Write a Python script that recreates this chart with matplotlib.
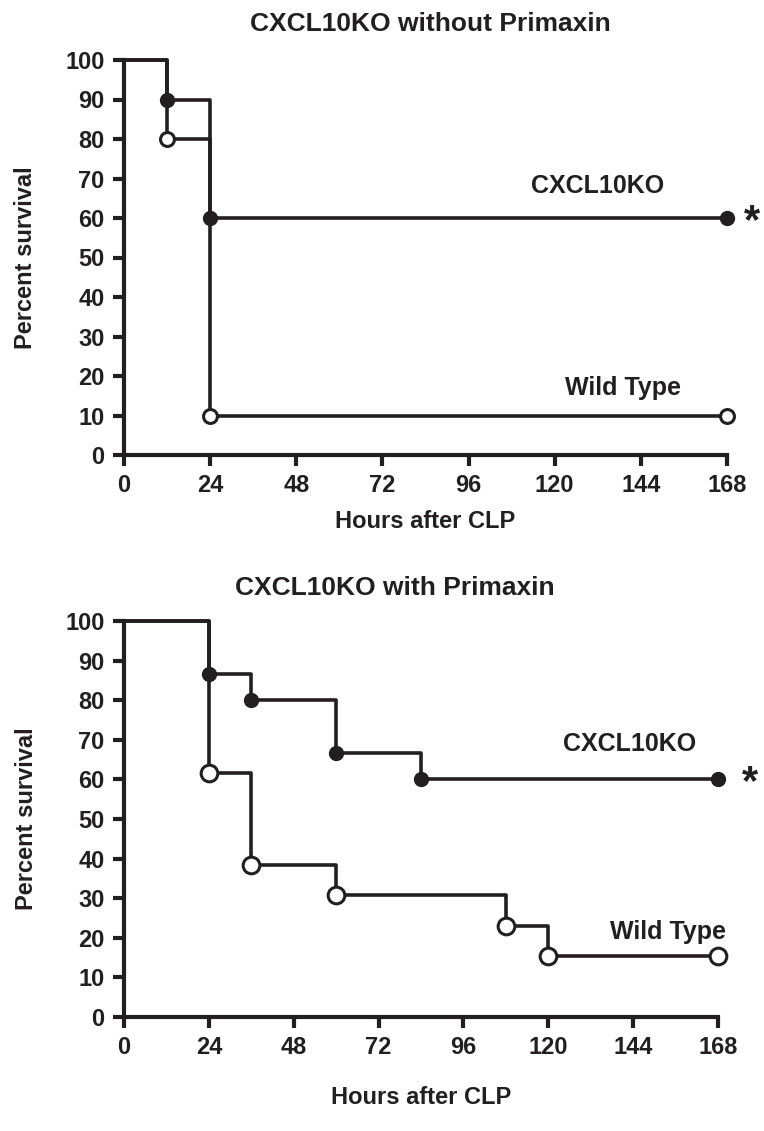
import matplotlib
matplotlib.use('Agg')
import matplotlib.pyplot as plt

plt.rcParams['font.family'] = ['Liberation Sans', 'DejaVu Sans']
plt.rcParams['font.weight'] = 'bold'
plt.rcParams['axes.labelweight'] = 'bold'

# 坐标轴刻度
hour_ticks = [0, 24, 48, 72, 96, 120, 144, 168]
pct_ticks = [0, 10, 20, 30, 40, 50, 60, 70, 80, 90, 100]

# 无 Primaxin
t1_ko = [0, 12, 24, 168]
s1_ko = [100, 90, 60, 60]
t1_wt = [0, 12, 24, 168]
s1_wt = [100, 80, 10, 10]

# 有 Primaxin
t2_ko = [0, 24, 36, 60, 84, 168]
s2_ko = [100, 86.7, 80, 66.7, 60, 60]
t2_wt = [0, 24, 36, 60, 108, 120, 168]
s2_wt = [100, 61.5, 38.5, 30.8, 23.1, 15.4, 15.4]

W, H = 764, 1131
INK = '#231f20'
fig = plt.figure(figsize=(W / 100, H / 100), dpi=100)
ax1 = fig.add_axes([124 / W, 1 - 455 / H, (727 - 124) / W, (455 - 60) / H])
ax2 = fig.add_axes([124 / W, 1 - 1017 / H, (718 - 124) / W, (1017 - 621) / H])


def draw(ax, t_ko, s_ko, t_wt, s_wt, wt_ms, lab_ko, lab_wt, star, xlab_y):
    ax.step(t_ko, s_ko, where='post', color=INK, lw=2.6, clip_on=False)
    ax.step(t_wt, s_wt, where='post', color=INK, lw=2.6, clip_on=False)
    ax.plot(t_ko[1:], s_ko[1:], 'o', color=INK, ms=10, clip_on=False, zorder=3)
    ax.plot(t_wt[1:], s_wt[1:], 'o', mfc='white', mec=INK, mew=2.2,
            ms=wt_ms, clip_on=False, zorder=3)
    ax.set_xlim(0, 168)
    ax.set_ylim(0, 100)
    ax.set_xticks(hour_ticks)
    ax.set_yticks(pct_ticks)
    for s in ['top', 'right']:
        ax.spines[s].set_visible(False)
    for s in ['left', 'bottom']:
        ax.spines[s].set_linewidth(3)
        ax.spines[s].set_color(INK)
    ax.tick_params(direction='out', length=8, width=3, pad=6, labelsize=17,
                   color=INK, labelcolor=INK)
    ax.set_xlabel('Hours after CLP', fontsize=17, color=INK)
    ax.xaxis.set_label_coords(0.5, xlab_y)
    ax.set_ylabel('Percent survival', fontsize=17, color=INK)
    ax.yaxis.set_label_coords(-0.145, 0.5)
    ax.text(lab_ko[0], lab_ko[1], 'CXCL10KO', fontsize=18, ha='center', va='center',
            color=INK)
    ax.text(lab_wt[0], lab_wt[1], 'Wild Type', fontsize=18, ha='center', va='center',
            color=INK)
    ax.text(star[0], star[1], '*', fontsize=30, ha='center', va='center',
            color=INK, clip_on=False)


draw(ax1, t1_ko, s1_ko, t1_wt, s1_wt, 10, (132, 68), (139, 17), (175, 59), -0.14)
draw(ax2, t2_ko, s2_ko, t2_wt, s2_wt, 12, (143, 69), (154, 21.5), (177, 59), -0.175)

fig.text(430 / W, 1 - 24 / H, 'CXCL10KO without Primaxin', fontsize=19,
         ha='center', va='center', color=INK)
fig.text(395 / W, 1 - 588 / H, 'CXCL10KO with Primaxin', fontsize=19,
         ha='center', va='center', color=INK)

fig.savefig('out.png', dpi=100)
